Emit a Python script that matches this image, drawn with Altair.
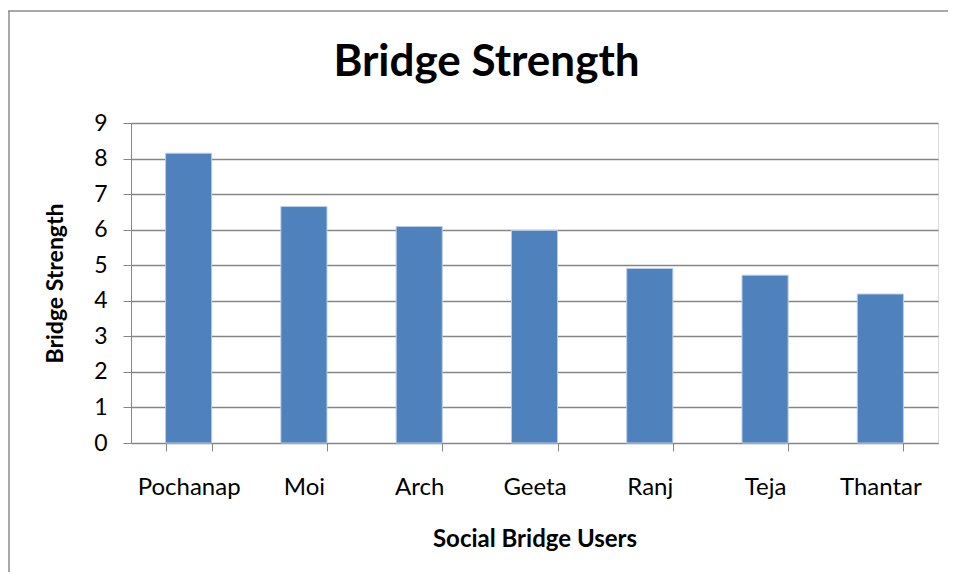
import altair as alt
import pandas as pd

users = ["Pochanap", "Moi", "Arch", "Geeta", "Ranj", "Teja", "Thantar"]
strength = [8.15, 6.65, 6.09, 5.98, 4.91, 4.72, 4.19]

df = pd.DataFrame({"user": users, "strength": strength})
FONT = "Lato"
GRAY = "#868686"

bars = alt.Chart(df).mark_bar(color="#4F81BD", stroke="#b9cde5", strokeWidth=1).encode(
    x=alt.X(
        "user:N",
        sort=users,
        scale=alt.Scale(paddingInner=0.6, paddingOuter=0.3),
        axis=alt.Axis(
            title="Social Bridge Users",
            labelAngle=0,
            grid=False,
            tickBand="extent",
            tickSize=8,
            tickColor=GRAY,
            domainColor=GRAY,
            labelFont=FONT,
            labelFontSize=24,
            labelColor="black",
            labelPadding=24,
            titleFont=FONT,
            titleFontSize=24,
            titleFontWeight="bold",
            titleColor="black",
            titlePadding=28,
        ),
    ),
    y=alt.Y(
        "strength:Q",
        scale=alt.Scale(domain=[0, 9], nice=False),
        axis=alt.Axis(
            title="Bridge Strength",
            values=list(range(10)),
            grid=True,
            gridColor=GRAY,
            gridWidth=1.5,
            tickSize=8,
            tickColor=GRAY,
            domainColor=GRAY,
            labelFont=FONT,
            labelFontSize=23,
            labelColor="black",
            labelPadding=16,
            titleFont=FONT,
            titleFontSize=23,
            titleFontWeight="bold",
            titleColor="black",
            titlePadding=26,
        ),
    ),
)

frame_df = pd.DataFrame({"k": [0]})
top_rule = alt.Chart(frame_df).mark_rule(color="#8c8c8c", strokeWidth=1.5).encode(
    x=alt.value(-123), x2=alt.value(830), y=alt.value(-112)
)
left_rule = alt.Chart(frame_df).mark_rule(color="#8c8c8c", strokeWidth=1.5).encode(
    x=alt.value(-122), y=alt.value(-112), y2=alt.value(470)
)

chart = alt.layer(bars, top_rule, left_rule).properties(
    width=807,
    height=320,
    autosize=alt.AutoSizeParams(type="none"),
    padding={"left": 123, "top": 115, "right": 10, "bottom": 129},
    title=alt.TitleParams(
        "Bridge Strength",
        font=FONT,
        fontSize=44,
        fontWeight="bold",
        color="black",
        anchor="middle",
        baseline="alphabetic",
        dx=-48,
        dy=110,
        offset=0,
    ),
).configure_view(stroke=None).configure(background="white")

chart.save("out.html", embed_options={"renderer": "svg", "actions": False})
